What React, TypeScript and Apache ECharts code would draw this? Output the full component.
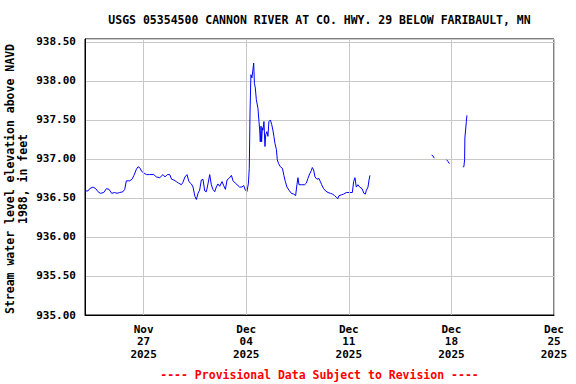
import React, { useEffect, useRef } from "react";
import * as echarts from "echarts";

// Days since 2025-11-23 00:00 and gage height (ft above NAVD 1988); null = no data
const dayOffsets: number[] = [
  0.0, 0.2, 0.32, 0.55, 0.73, 0.89, 1.05, 1.28, 1.46, 1.64, 1.82, 2.03, 2.18, 2.37, 2.59, 2.71, 2.82, 3.05, 3.21, 3.34,
  3.51, 3.62, 3.73, 3.87, 4.02, 4.19, 4.41, 4.69, 4.87, 5.1, 5.32, 5.46, 5.62, 5.78, 5.91, 6.07, 6.23, 6.39, 6.58, 6.68,
  6.82, 6.96, 7.09, 7.26, 7.37, 7.5, 7.6, 7.71, 7.82, 7.94, 8.05, 8.17, 8.28, 8.39, 8.51, 8.62, 8.73, 8.85, 8.96, 9.07,
  9.19, 9.35, 9.46, 9.58, 9.69, 9.82, 9.99, 10.1, 10.26, 10.44, 10.55, 10.71, 10.83, 10.94, 11.05, 11.15, 11.21, 11.26,
  11.32, 11.39, 11.46, 11.51, 11.56, 11.62, 11.69, 11.8, 11.87, 11.92, 11.96, 12.01, 12.05, 12.1, 12.14, 12.21, 12.28,
  12.33, 12.41, 12.48, 12.55, 12.65, 12.74, 12.82, 12.89, 12.96, 13.06, 13.12, 13.21, 13.33, 13.47, 13.57, 13.67, 13.78,
  13.92, 14.08, 14.24, 14.37, 14.46, 14.53, 14.6, 14.76, 14.99, 15.1, 15.21, 15.33, 15.44, 15.51, 15.6, 15.69, 15.83,
  15.96, 16.06, 16.15, 16.28, 16.42, 16.58, 16.74, 16.88, 17.03, 17.15, 17.24, 17.33, 17.49, 17.65, 17.83, 18.06, 18.24,
  18.33, 18.42, 18.51, 18.62, 18.74, 18.9, 19.03, 19.13, 19.2, 19.31, 19.38, 19.44,
  19.5,
  23.65, 23.74, 23.83,
  24.2,
  24.67, 24.76, 24.86,
  25.3,
  25.78, 25.85, 25.9, 25.92, 26.02, 26.06,
];

const levels: (number | null)[] = [
  936.59, 936.59, 936.62, 936.64, 936.62, 936.58, 936.56, 936.57, 936.62, 936.61, 936.56, 936.57, 936.56, 936.57, 936.58,
  936.61, 936.72, 936.72, 936.74, 936.79, 936.87, 936.9, 936.89, 936.84, 936.82, 936.8, 936.8, 936.8, 936.77, 936.76,
  936.8, 936.77, 936.8, 936.8, 936.74, 936.73, 936.71, 936.69, 936.67, 936.7, 936.77, 936.8, 936.71, 936.68, 936.64,
  936.52, 936.48, 936.56, 936.6, 936.73, 936.74, 936.59, 936.58, 936.68, 936.8, 936.67, 936.61, 936.58, 936.64, 936.68,
  936.65, 936.71, 936.66, 936.61, 936.73, 936.75, 936.79, 936.72, 936.69, 936.66, 936.64, 936.64, 936.66, 936.6, 936.58,
  936.69, 936.88, 937.59, 938.08, 938.04, 938.15, 938.23, 937.97, 937.91, 937.76, 937.65, 937.48, 937.37, 937.22, 937.42,
  937.22, 937.4, 937.37, 937.48, 937.16, 937.31, 937.35, 937.29, 937.48, 937.5, 937.44, 937.37, 937.29, 937.2, 937.12,
  936.99, 936.94, 936.9, 936.88, 936.79, 936.71, 936.64, 936.6, 936.56, 936.55, 936.53, 936.67, 936.76, 936.67, 936.67,
  936.67, 936.69, 936.75, 936.81, 936.85, 936.89, 936.86, 936.77, 936.74, 936.75, 936.71, 936.67, 936.62, 936.59, 936.57,
  936.56, 936.55, 936.53, 936.51, 936.49, 936.53, 936.54, 936.55, 936.57, 936.57, 936.57, 936.71, 936.76, 936.64, 936.67,
  936.64, 936.62, 936.56, 936.55, 936.6, 936.64, 936.73, 936.79,
  null,
  937.05, 937.04, 937.01,
  null,
  936.99, 936.97, 936.94,
  null,
  936.9, 936.9, 936.99, 937.27, 937.48, 937.56,
];

const xTickDays: number[] = [4, 11, 18, 25, 32];
const xTickLabels: string[] = [
  "Nov\n27\n2025",
  "Dec\n04\n2025",
  "Dec\n11\n2025",
  "Dec\n18\n2025",
  "Dec\n25\n2025",
];

const titleText = "USGS 05354500 CANNON RIVER AT CO. HWY. 29 BELOW FARIBAULT, MN";
const yAxisTitle = "Stream water level elevation above NAVD\n1988, in feet";
const footerText = "---- Provisional Data Subject to Revision ----";

const FONT = "'DejaVu Sans Mono', 'Liberation Mono', monospace";

export default function App() {
  const ref = useRef<HTMLDivElement>(null);
  useEffect(() => {
    if (!ref.current) return;
    const chart = echarts.init(ref.current, undefined, { renderer: "svg" });
    const data = dayOffsets.map((d, i) => [d, levels[i]]);
    chart.setOption({
      animation: false,
      backgroundColor: "#ffffff",
      grid: {
        left: 85,
        top: 39,
        width: 469,
        height: 276,
        show: true,
        borderColor: "#000000",
        borderWidth: 1,
        backgroundColor: "#ffffff",
      },
      xAxis: {
        type: "value",
        min: 0,
        max: 32,
        interval: 1,
        axisLine: { show: true, lineStyle: { color: "#000000", width: 1 } },
        axisTick: { show: false },
        splitLine: { show: false },
        axisLabel: {
          show: true,
          margin: 8,
          color: "#000000",
          fontFamily: FONT,
          fontWeight: "bold",
          fontSize: 11,
          lineHeight: 12.5,
          hideOverlap: false,
          formatter: (v: number) => {
            const idx = xTickDays.findIndex((t) => Math.abs(t - v) < 1e-6);
            return idx >= 0 ? xTickLabels[idx] : "";
          },
        },
      },
      yAxis: {
        type: "value",
        min: 935,
        max: 938.538,
        interval: 0.5,
        axisLine: { show: true, lineStyle: { color: "#000000", width: 1 } },
        axisTick: { show: false },
        splitLine: { show: true, lineStyle: { color: "#c8c8c8", width: 1 } },
        axisLabel: {
          margin: 9,
          color: "#000000",
          fontFamily: FONT,
          fontWeight: "bold",
          fontSize: 11,
          formatter: (v: number) =>
            Math.abs(v * 2 - Math.round(v * 2)) < 1e-6 ? v.toFixed(2) : "",
        },
      },
      series: [
        {
          type: "line",
          data: [],
          z: 1,
          silent: true,
          markLine: {
            silent: true,
            symbol: "none",
            label: { show: false },
            lineStyle: { color: "#c8c8c8", type: "solid", width: 1 },
            data: xTickDays.map((d) => ({ xAxis: d })),
          },
        },
        {
          type: "line",
          z: 3,
          data,
          showSymbol: false,
          connectNulls: false,
          lineStyle: { color: "#0000ff", width: 1 },
          itemStyle: { color: "#0000ff" },
        },
      ],
      graphic: [
        {
          type: "text",
          x: 319.5,
          y: 20,
          style: {
            text: titleText,
            align: "center",
            verticalAlign: "middle",
            fontFamily: FONT,
            fontWeight: "bold",
            fontSize: 11.5,
            fill: "#000000",
          },
        },
        {
          type: "text",
          x: 16.5,
          y: 179,
          rotation: Math.PI / 2,
          style: {
            text: yAxisTitle,
            align: "center",
            verticalAlign: "middle",
            fontFamily: FONT,
            fontWeight: "bold",
            fontSize: 11.5,
            lineHeight: 13,
            fill: "#000000",
          },
        },
        {
          type: "text",
          x: 319.5,
          y: 374.5,
          style: {
            text: footerText,
            align: "center",
            verticalAlign: "middle",
            fontFamily: FONT,
            fontWeight: "bold",
            fontSize: 11.5,
            fill: "#ff0000",
          },
        },
      ],
    });
    return () => chart.dispose();
  }, []);
  return (
    <div
      ref={ref}
      style={{ position: "absolute", left: 0, top: 0, width: 576, height: 384 }}
    />
  );
}
